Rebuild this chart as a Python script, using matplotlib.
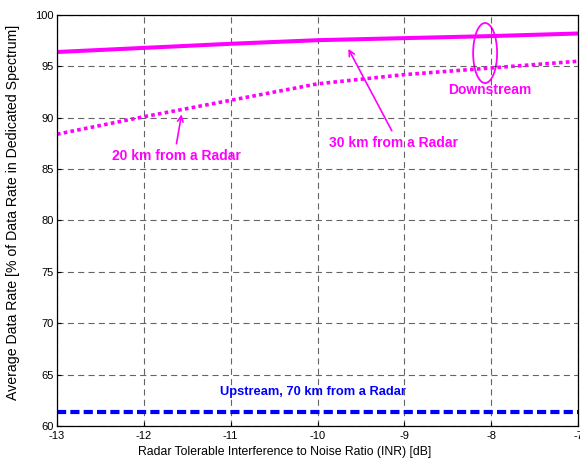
import matplotlib
matplotlib.use("Agg")
import matplotlib.pyplot as plt
from matplotlib.patches import Ellipse

plt.rcParams['font.family'] = ['Liberation Sans', 'DejaVu Sans']
plt.rcParams['axes.unicode_minus'] = False

# INR values (dB)
inr = [-13, -12, -11, -10, -9, -8, -7]
# Downstream data rate, 30 km from a radar (%)
down_30km = [96.4, 96.8, 97.2, 97.55, 97.75, 97.95, 98.2]
# Downstream data rate, 20 km from a radar (%)
down_20km = [88.4, 90.1, 91.7, 93.3, 94.2, 94.85, 95.5]
# Upstream data rate, 70 km from a radar (%)
up_70km = [61.4, 61.4, 61.4, 61.4, 61.4, 61.4, 61.4]

xticks = [-13, -12, -11, -10, -9, -8, -7]
yticks = [60, 65, 70, 75, 80, 85, 90, 95, 100]

magenta = '#ff00ff'
blue = '#0000ff'

fig = plt.figure(figsize=(5.8, 4.62), dpi=100)
ax = fig.add_axes([0.0983, 0.078, 0.8983, 0.8895])

ax.plot(inr, down_30km, color=magenta, lw=2.9, solid_capstyle='butt')
ax.plot(inr, down_20km, color=magenta, lw=2.6, linestyle=(0, (1.0, 0.9)))
ax.plot(inr, up_70km, color=blue, lw=3.0, linestyle=(0, (2.2, 1.0)))

ax.set_xlim(-13, -7)
ax.set_ylim(60, 100)
ax.set_xticks(xticks)
ax.set_yticks(yticks)
ax.tick_params(labelsize=8, direction='in', length=3, width=0.8)
ax.tick_params(axis='x', pad=3.5)
ax.tick_params(axis='y', pad=2.5)
ax.grid(True, color='#222222', linestyle=(0, (5.5, 3.8)), linewidth=0.8, alpha=0.7)
for s in ax.spines.values():
    s.set_linewidth(0.9)

ax.set_xlabel('Radar Tolerable Interference to Noise Ratio (INR) [dB]', fontsize=8.8)
ax.xaxis.set_label_coords(0.436, -0.049)
ax.set_ylabel('Average Data Rate [% of Data Rate in Dedicated Spectrum]', fontsize=10.2)
ax.yaxis.set_label_coords(-0.071, 0.52)

bold = dict(fontsize=10, fontweight='bold', ha='center', va='center')

ax.annotate('', xy=(-11.56, 90.6), xytext=(-11.63, 87.2),
            arrowprops=dict(arrowstyle='->', color=magenta, lw=1.2))
ax.text(-11.63, 86.3, '20 km from a Radar', color=magenta, **bold)

ax.annotate('', xy=(-9.66, 96.95), xytext=(-9.13, 88.5),
            arrowprops=dict(arrowstyle='->', color=magenta, lw=1.2))
ax.text(-9.13, 87.5, '30 km from a Radar', color=magenta, **bold)

ax.add_patch(Ellipse((-8.07, 96.3), 0.276, 5.85, fill=False, edgecolor=magenta, lw=1.3))
ax.text(-8.02, 92.7, 'Downstream', color=magenta, **bold)

ax.text(-10.05, 63.3, 'Upstream, 70 km from a Radar', color=blue,
        **{**bold, 'fontsize': 9.3})

fig.savefig('out.png', dpi=100)
